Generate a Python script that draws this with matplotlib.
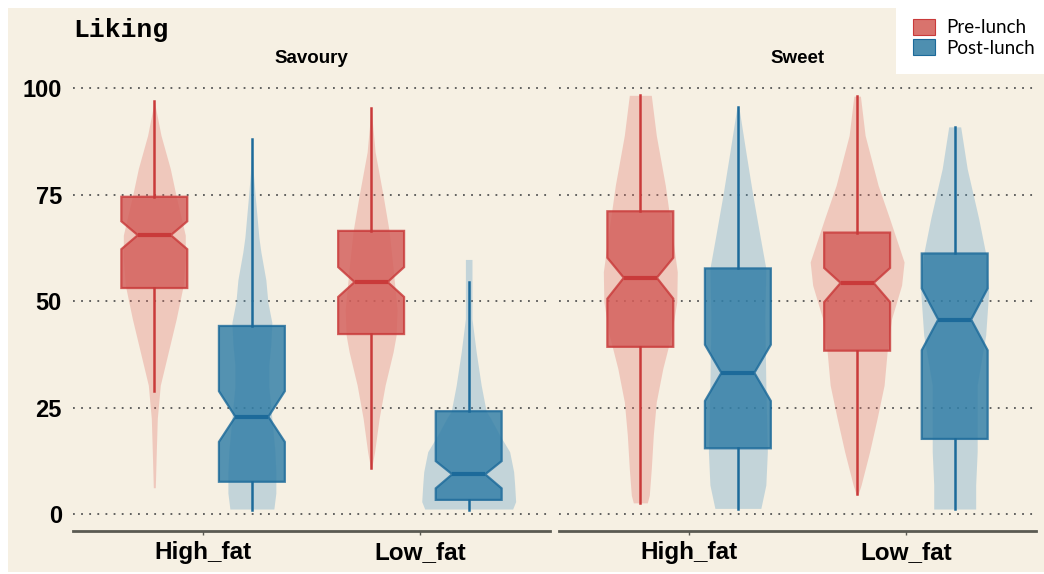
import numpy as np
import matplotlib.pyplot as plt
from matplotlib.patches import Patch, Rectangle

# categories / facets
facets = ['Savoury', 'Sweet']
fat_levels = ['High_fat', 'Low_fat']
periods = ['Pre-lunch', 'Post-lunch']

# box stats: (whislo, q1, med, q3, whishi, cilo, cihi)
savoury_pre = [(28.9, 53.1, 65.5, 74.5, 96.9, 62.2, 68.75),
               (10.8, 42.3, 54.5, 66.5, 95.3, 51.0, 58.0)]
savoury_post = [(1.0, 7.65, 22.9, 44.2, 88.0, 17.0, 28.9),
                (1.0, 3.4, 9.4, 24.2, 54.5, 6.1, 12.5)]
sweet_pre = [(2.7, 39.3, 55.5, 71.1, 98.3, 50.6, 60.2),
             (4.7, 38.4, 54.3, 66.1, 98.1, 49.8, 57.8)]
sweet_post = [(1.25, 15.5, 33.2, 57.7, 95.5, 26.6, 39.8),
              (1.25, 17.7, 45.7, 61.2, 90.9, 38.5, 53.0)]

# violin outlines: (liking value, half width in pixels)
vio_savoury_high_pre = [(96.9, 0), (88.9, 6.7), (81.1, 16), (74.5, 22), (65.5, 31), (60, 31),
                        (53.75, 29), (45.9, 22), (38.1, 14), (30.3, 6), (22.5, 3), (14.7, 2), (6.25, 1)]
vio_savoury_high_post = [(88, 0), (80, 1.5), (74.8, 3.3), (65, 7), (61.6, 9), (55, 14), (49.8, 16),
                         (45, 20), (40, 19), (35, 17), (30, 17), (25, 19), (20, 21), (15, 23),
                         (10, 24), (5, 24), (1.25, 22)]
vio_savoury_low_pre = [(95.3, 0), (85, 4), (74.8, 12), (66.5, 18), (57.7, 22), (48, 26), (42, 25),
                       (38.1, 22), (30.3, 14), (22.5, 8), (14.7, 3.5), (10.8, 0.5)]
vio_savoury_low_post = [(59.8, 3.3), (45.9, 3.3), (38.1, 7.5), (30.3, 12.5), (24.2, 17.5),
                        (22.5, 22), (18.6, 31), (14.7, 41), (10, 45), (6.9, 46), (3, 47), (1.25, 44)]
vio_sweet_high_pre = [(98.3, 11), (88.9, 16), (77.2, 25), (65.5, 32), (56.9, 37), (49.8, 36.5),
                      (42, 31), (34.2, 22.5), (26.4, 16), (18.6, 13), (10.7, 11), (4.5, 9), (2.7, 7)]
vio_sweet_high_post = [(95.5, 1), (85, 8), (74.8, 15), (65.5, 22), (57.7, 28), (45.9, 27),
                       (30.3, 28), (14.7, 29.5), (6.9, 28), (1.4, 23)]
vio_sweet_low_pre = [(98.1, 3.3), (88.9, 8), (77.2, 21), (69.4, 32.5), (59.2, 47), (53.75, 44.5),
                     (45.9, 34.5), (38.1, 30), (30.3, 27), (22.5, 20), (14.7, 12.5), (6.9, 4), (4.7, 1)]
vio_sweet_low_post = [(90.9, 6), (81.1, 12.5), (69.4, 24), (61.2, 31), (52.2, 34), (42, 31),
                      (30.3, 22.5), (22.5, 22.5), (14.7, 22.5), (6.9, 21), (1.25, 21)]

y_ticks = [0, 25, 50, 75, 100]

BG = '#f6f0e3'
VIO_COL = ['#df6e64', '#4f96c2']
BOX_COL = ['#d35d59', '#307da6']
EDGE_COL = ['#c93a3a', '#1c6a9a']
LEG_COL = ['#d9736d', '#4e8fb0']
PX_PER_UNIT = 217.0
DODGE = 0.225


def draw_violin(ax, pos, profile, color):
    vals = np.array([p[0] for p in profile])
    half = np.array([p[1] for p in profile]) / PX_PER_UNIT
    ax.fill_betweenx(vals, pos - half, pos + half, color=color, alpha=0.3, lw=0, zorder=2)


def draw_box(ax, pos, s, i):
    st = dict(whislo=s[0], q1=s[1], med=s[2], q3=s[3], whishi=s[4], cilo=s[5], cihi=s[6])
    ax.bxp([st], positions=[pos], widths=0.304, patch_artist=True, shownotches=True,
           showcaps=False, showfliers=False,
           boxprops=dict(facecolor=BOX_COL[i], edgecolor=EDGE_COL[i], lw=1.6, alpha=0.82),
           whiskerprops=dict(color=EDGE_COL[i], lw=1.8),
           medianprops=dict(color=EDGE_COL[i], lw=3, solid_capstyle='butt'),
           zorder=3)


fig = plt.figure(figsize=(10.44, 5.74), dpi=100, facecolor='white')
fig.patches.append(Rectangle((8 / 1044, 2 / 574), 1036 / 1044, 564 / 574, transform=fig.transFigure,
                             facecolor=BG, edgecolor='none', zorder=-10))

W, H = 1044.0, 574.0
ax_l = fig.add_axes([73 / W, 43 / H, 477 / W, 457 / H])
ax_r = fig.add_axes([559 / W, 43 / H, 477 / W, 457 / H])

data = {
    'Savoury': (savoury_pre, savoury_post,
                [[vio_savoury_high_pre, vio_savoury_high_post], [vio_savoury_low_pre, vio_savoury_low_post]]),
    'Sweet': (sweet_pre, sweet_post,
              [[vio_sweet_high_pre, vio_sweet_high_post], [vio_sweet_low_pre, vio_sweet_low_post]]),
}

for ax, facet in zip([ax_l, ax_r], facets):
    pre, post, vios = data[facet]
    ax.set_facecolor('none')
    for k in range(len(fat_levels)):
        for i, stats in enumerate([pre, post]):
            pos = k + (-DODGE if i == 0 else DODGE)
            draw_violin(ax, pos, vios[k][i], VIO_COL[i])
            draw_box(ax, pos, stats[k], i)
    ax.set_xlim(-0.6, 1.6)
    ax.set_ylim(-3.9, 103.3)
    for yv in y_ticks:
        ax.axhline(yv, color='#555555', lw=1.3, ls=(0, (1, 3.5)), zorder=1)
    ax.set_xticks(range(len(fat_levels)))
    ax.set_xticklabels(fat_levels, fontsize=17.5, fontweight='bold', family='Liberation Sans')
    ax.set_yticks(y_ticks)
    for sp in ['top', 'left', 'right']:
        ax.spines[sp].set_visible(False)
    ax.spines['bottom'].set_color('#5a5a52')
    ax.spines['bottom'].set_linewidth(2)
    ax.tick_params(axis='x', length=3, width=1, color='#5a5a52', pad=4)
    ax.tick_params(axis='y', length=0, pad=8)
    ax.text(0.5, (531 - 58) / 457, facet, transform=ax.transAxes, ha='center', va='center',
            fontsize=13.5, fontweight='bold', family='Liberation Sans')

ax_l.set_yticklabels([str(v) for v in y_ticks], fontsize=17, fontweight='bold', family='Liberation Sans')
ax_r.set_yticklabels([])

fig.text(73 / W, 1 - 37 / H, 'Liking', fontsize=19, fontweight='bold', family='Liberation Mono',
         va='baseline', ha='left')

handles = [Patch(facecolor=LEG_COL[i], edgecolor=EDGE_COL[i], lw=0.8) for i in range(2)]
leg = fig.legend(handles, periods, loc='upper right', bbox_to_anchor=(1.0 + 8 / W, 1 - 2 / H),
                 frameon=True, fancybox=False, facecolor='white', edgecolor='none', framealpha=1,
                 prop={'family': 'Lato', 'size': 13.5}, handlelength=1.17, handleheight=0.95,
                 handletextpad=0.6, labelspacing=0.15, borderpad=0.9, borderaxespad=0)

fig.savefig('out.png', dpi=100, facecolor=fig.get_facecolor())
